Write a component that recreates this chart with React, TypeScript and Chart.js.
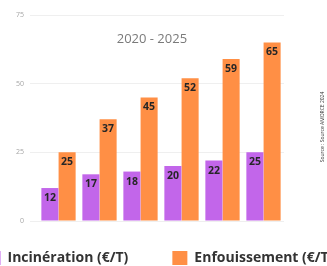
import React, { useEffect, useRef } from "react";
import { Chart, registerables } from "chart.js";

Chart.register(...registerables);

const years = ["2020", "2021", "2022", "2023", "2024", "2025"];
const incineration = [12, 17, 18, 20, 22, 25];
const enfouissement = [25, 37, 45, 52, 59, 65];
const seriesLabels = ["Incinération (€/T)", "Enfouissement (€/T)"];
const titleText = "2020 - 2025";
const sourceText = "Source : Source AMORCE 2024";
const yTicks = [0, 25, 50, 75];

const PURPLE = "#c266ea";
const ORANGE = "#ff8f45";
const FONT = "'Open Sans', 'DejaVu Sans', sans-serif";

const decorPlugin = {
  id: "decor",
  afterDatasetsDraw(chart: any) {
    const ctx = chart.ctx;
    const area = chart.chartArea;
    ctx.save();
    // value labels
    ctx.font = `bold 10.5px ${FONT}`;
    ctx.fillStyle = "#262626";
    ctx.textAlign = "center";
    ctx.textBaseline = "middle";
    chart.data.datasets.forEach((ds: any, i: number) => {
      const meta = chart.getDatasetMeta(i);
      meta.data.forEach((el: any, j: number) => {
        ctx.fillText(String(ds.data[j]), el.x, el.y + 10);
      });
    });
    // title inside plot
    ctx.font = `13px ${FONT}`;
    ctx.fillStyle = "#7a7a7a";
    ctx.fillText(titleText, area.left + area.width * 0.463, area.top + 24);
    // vertical source
    ctx.save();
    ctx.translate(chart.width - 4, 127);
    ctx.rotate(-Math.PI / 2);
    ctx.font = `5px ${FONT}`;
    ctx.fillStyle = "#333";
    ctx.fillText(sourceText, 0, 0);
    ctx.restore();
    // legend
    ctx.font = `bold 14px ${FONT}`;
    ctx.textAlign = "left";
    const box = 15;
    const gapText = 7;
    const gapItem = 44;
    const widths = chart.data.datasets.map((ds: any) => ctx.measureText(ds.label).width);
    let total = 0;
    widths.forEach((w: number, i: number) => {
      total += box + gapText + w + (i < widths.length - 1 ? gapItem : 0);
    });
    let x = (chart.width - total) / 2 - 4;
    const y = 258;
    chart.data.datasets.forEach((ds: any, i: number) => {
      ctx.fillStyle = ds.backgroundColor;
      ctx.fillRect(x, y - 7, box, 14);
      ctx.fillStyle = "#333";
      ctx.fillText(ds.label, x + box + gapText, y);
      x += box + gapText + widths[i] + gapItem;
    });
    ctx.restore();
  },
};

export default function App() {
  const ref = useRef<HTMLCanvasElement>(null);
  useEffect(() => {
    if (!ref.current) return;
    const chart = new Chart(ref.current, {
      type: "bar",
      data: {
        labels: years,
        datasets: [
          {
            label: seriesLabels[0],
            data: incineration,
            backgroundColor: PURPLE,
            borderWidth: 0,
            categoryPercentage: 0.84,
            barPercentage: 0.99,
          },
          {
            label: seriesLabels[1],
            data: enfouissement,
            backgroundColor: ORANGE,
            borderWidth: 0,
            categoryPercentage: 0.84,
            barPercentage: 0.99,
          },
        ],
      },
      options: {
        animation: false,
        responsive: true,
        maintainAspectRatio: false,
        layout: { padding: { top: 15, right: 43, bottom: 33, left: 0 } },
        plugins: {
          legend: { display: false },
          tooltip: { enabled: false },
          title: { display: false },
        },
        scales: {
          x: {
            grid: { display: false },
            border: { display: false },
            ticks: { color: "#9a9a9a", font: { size: 7, family: FONT }, padding: 3 },
            afterFit: (s: any) => {
              s.height = 12;
            },
          },
          y: {
            min: yTicks[0],
            max: yTicks[yTicks.length - 1],
            grid: { color: "#efefef", lineWidth: 1 },
            border: { display: false },
            afterBuildTicks: (s: any) => {
              s.ticks = yTicks.map((v) => ({ value: v }));
            },
            ticks: { color: "#a5a5a5", font: { size: 7, family: FONT }, padding: 6 },
            afterFit: (s: any) => {
              s.width = 38;
            },
          },
        },
      },
      plugins: [decorPlugin],
    });
    return () => chart.destroy();
  }, []);
  return (
    <div style={{ position: "fixed", left: 0, top: 0, width: 327, height: 266, background: "#fff" }}>
      <canvas ref={ref} />
    </div>
  );
}
